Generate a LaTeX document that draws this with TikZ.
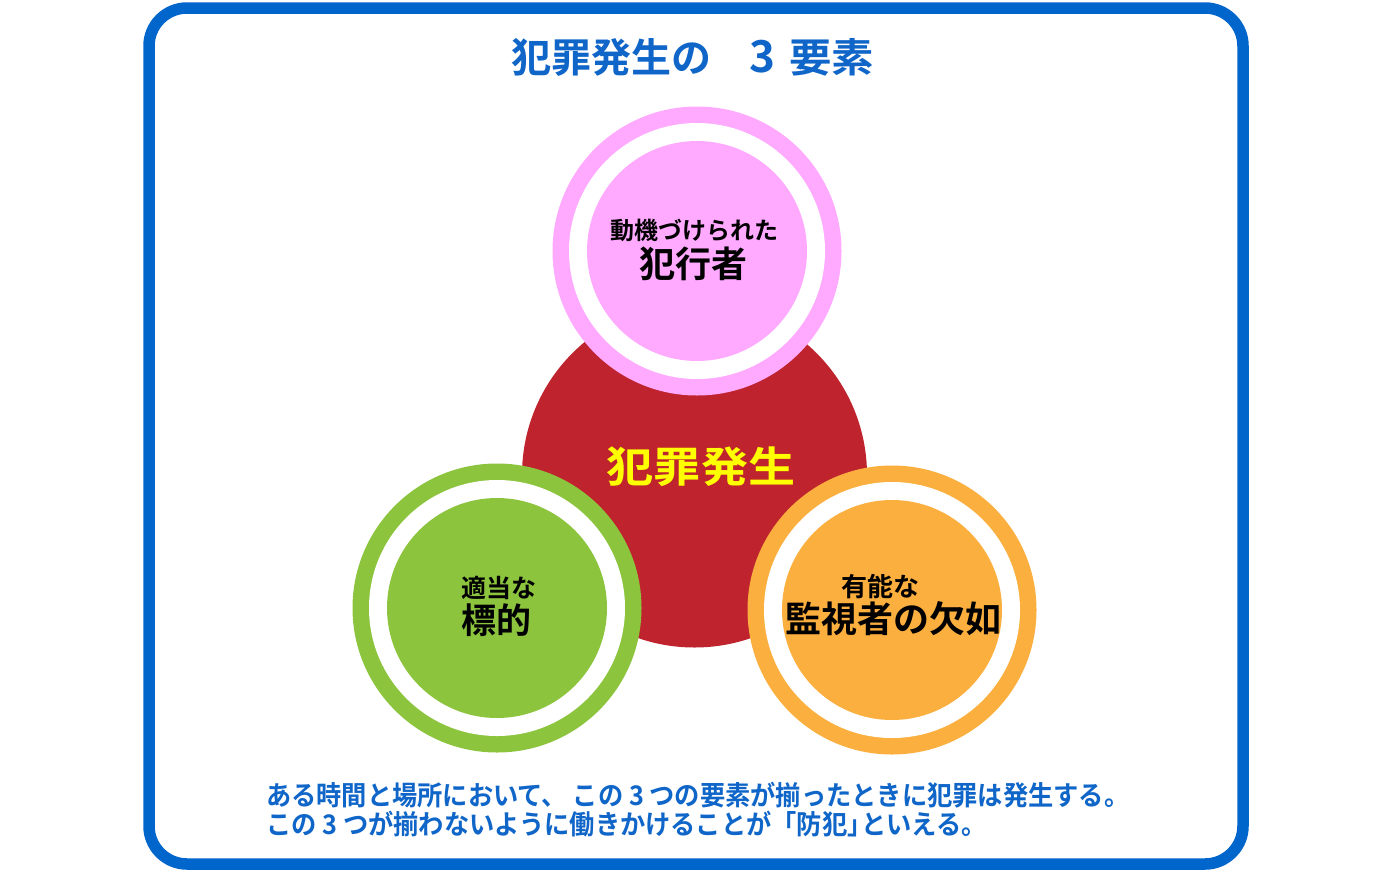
\documentclass[tikz,border=0pt]{standalone}
\usepackage{fontspec}
\usepackage{graphicx}
\newfontfamily\jp{Noto Sans CJK JP}[BoldFont={Noto Sans CJK JP Bold}]
\definecolor{frameblue}{HTML}{0066CC}
\definecolor{titleblue}{HTML}{0F66C8}
\definecolor{pinkc}{HTML}{FFA9FF}
\definecolor{redc}{HTML}{BE232E}
\definecolor{greenc}{HTML}{8CC43E}
\definecolor{orangec}{HTML}{FBAF3E}
\definecolor{yellowc}{HTML}{FFFF00}
\tikzset{
  ringouter/.style={circle, minimum size=289pt, inner sep=0pt, fill=#1},
  ringwhite/.style={circle, minimum size=256pt, inner sep=0pt, fill=white},
  ringinner/.style={circle, minimum size=220pt, inner sep=0pt, fill=#1},
  lbl/.style={inner sep=0pt, text=black, font=\jp\bfseries, align=center},
}
\begin{document}
\begin{tikzpicture}[x=1pt,y=-1pt]
\useasboundingbox (0,0) rectangle (1400,884);
\fill[white] (0,0) rectangle (1400,884);
\draw[frameblue, line width=11.5pt, rounded corners=38pt] (149,8) rectangle (1243,864);
\node[inner sep=0pt, text=titleblue, font=\jp\bfseries\fontsize{40}{46}\selectfont] (title) at (693,57) {犯罪発生の\hspace{38pt}{\fontsize{44}{46}\selectfont 3}\hspace{14pt}\scalebox{1.06}[1]{要素}};
% central red circle
\node[circle, minimum size=345pt, inner sep=0pt, fill=redc] (red) at (694.5,475) {};
% pink circle
\node[ringouter=pinkc] (pinkO) at (697,251) {};
\node[ringwhite] (pinkW) at (pinkO.center) {};
\node[ringinner=pinkc] (pinkI) at (pinkO.center) {};
% green circle
\node[ringouter=greenc] (greenO) at (497,608) {};
\node[ringwhite] (greenW) at (greenO.center) {};
\node[ringinner=greenc] (greenI) at (greenO.center) {};
% orange circle
\node[ringouter=orangec] (orangeO) at (892,610) {};
\node[ringwhite] (orangeW) at (orangeO.center) {};
\node[ringinner=orangec] (orangeI) at (orangeO.center) {};
% labels
\node[inner sep=0pt, text=yellowc, font=\jp\bfseries] (redT) at (701,467) {\scalebox{1.12}[1]{\fontsize{42}{48}\selectfont 犯罪発生}};
\node[lbl, font=\jp\bfseries\fontsize{24}{28}\selectfont] (pinkT1) at (694,230) {動機づけられた};
\node[lbl, font=\jp\bfseries\fontsize{36}{40}\selectfont] (pinkT2) at (693,264) {犯行者};
\node[lbl, font=\jp\bfseries\fontsize{25}{28}\selectfont, anchor=west] (greenT1) at (461,588) {適当な};
\node[lbl, font=\jp\bfseries\fontsize{35}{40}\selectfont, anchor=west] (greenT2) at (461,620) {標的};
\node[lbl, font=\jp\bfseries\fontsize{26}{28}\selectfont] (orangeT1) at (880,587) {有能な};
\node[lbl, font=\jp\bfseries\fontsize{36}{40}\selectfont] (orangeT2) at (893,619) {監視者の欠如};
% bottom text
\node[inner sep=0pt, anchor=west, text=titleblue, font=\jp\bfseries] (note1) at (266,795) {\scalebox{0.935}[1]{\fontsize{27}{30}\selectfont ある時間と場所において、 この 3 つの要素が揃ったときに犯罪は発生する。}};
\node[inner sep=0pt, anchor=west, text=titleblue, font=\jp\bfseries] (note2) at (266,824) {\scalebox{0.935}[1]{\fontsize{27}{30}\selectfont この 3 つが揃わないように働きかけることが「防犯」\hspace{-12pt}といえる。}};
\end{tikzpicture}
\end{document}
